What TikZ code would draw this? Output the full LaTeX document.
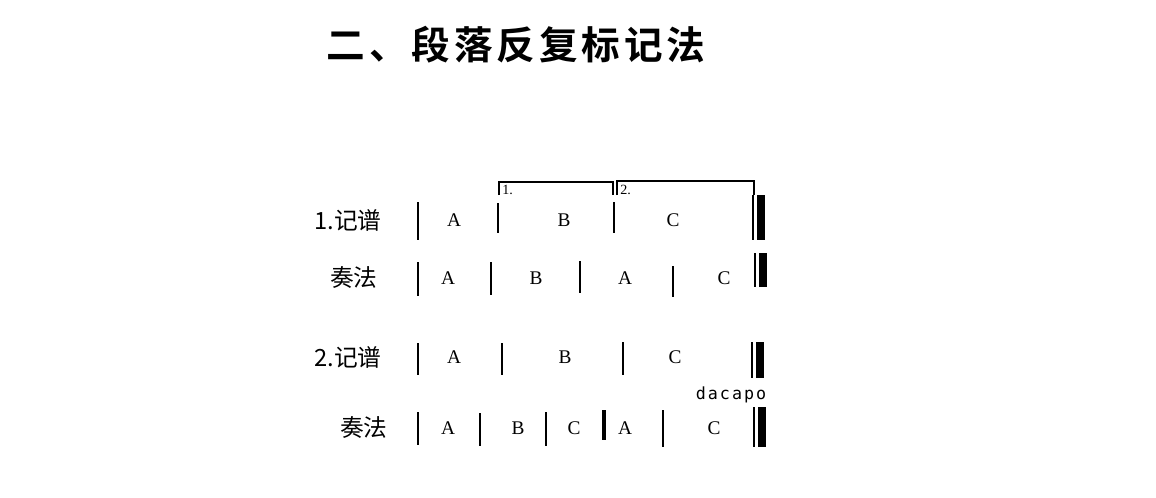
\documentclass[tikz,border=0pt]{standalone}
\usepackage{fontspec}
\setmainfont{Liberation Serif}
\newfontfamily\cjk[BoldFont={Noto Sans CJK SC Bold}]{Noto Sans CJK SC}
\newfontfamily\dcfont[LetterSpace=12]{DejaVu Sans Mono}
\usetikzlibrary{positioning}

% final double bar: x, top, bottom
\newcommand{\finbar}[3]{%
  \draw[bar,line width=0.9pt] (#1,#2) -- (#1,#3);
  \draw[fin] (#1+8,#2) -- (#1+8,#3);}

\begin{document}
\begin{tikzpicture}[x=0.02cm,y=-0.02cm]
  \tikzstyle{bar}=[line width=1.3pt]
  \tikzstyle{fin}=[line width=4.4pt]
  \tikzstyle{part}=[font=\fontsize{11}{11}\selectfont,inner sep=0pt]
  \tikzstyle{lbl}=[font=\cjk\fontsize{13.5}{13.5}\selectfont,anchor=east,inner sep=0pt]
  \tikzstyle{volta}=[line width=0.7pt]
  \useasboundingbox (0,0) rectangle (1156,497);

  \node[font=\cjk\bfseries\fontsize{22}{22}\selectfont,inner sep=0pt] (title) at (516,45)
    {\addfontfeature{LetterSpace=10}二、段落反复标记法};

  % 1. written
  \node[lbl] (row-1) at (382,220) {1.记谱};
  \foreach \name/\x in {A/454, B/564, C/673}
    \node[part] (r1-\name) at (\x,220) {\name};
  \foreach \x/\ya/\yb in {418/202/240, 498/203/233, 614/202/233}
    { \draw[bar] (\x,\ya) -- (\x,\yb); }
  \finbar{753}{195}{240}
  \draw[volta] (499,195) -- (499,182) -- (613,182) -- (613,195);
  \draw[volta] (617,195) -- (617,181) -- (754,181) -- (754,195);
  \node[font=\fontsize{8}{8}\selectfont,anchor=west,inner sep=0pt] (volta-1) at (502,190) {1.};
  \node[font=\fontsize{8}{8}\selectfont,anchor=west,inner sep=0pt] (volta-2) at (620,190) {2.};

  % 1. played
  \node[lbl] (row-2) at (378,278) {奏法};
  \foreach \name/\x/\text in {A/448/A, B/536/B, A2/625/A, C/724/C}
    \node[part] (r2-\name) at (\x,278) {\text};
  \foreach \x/\ya/\yb in {418/262/296, 491/262/295, 580/261/293, 673/266/297}
    { \draw[bar] (\x,\ya) -- (\x,\yb); }
  \finbar{755}{253}{287}

  % 2. written
  \node[lbl] (row-3) at (382,357) {2.记谱};
  \foreach \name/\x in {A/454, B/565, C/675}
    \node[part] (r3-\name) at (\x,357) {\name};
  \foreach \x/\ya/\yb in {418/343/375, 502/343/375, 623/342/375}
    { \draw[bar] (\x,\ya) -- (\x,\yb); }
  \finbar{752}{342}{378}
  \node[font=\dcfont\fontsize{9.5}{9.5}\selectfont,inner sep=0pt] (dacapo) at (731,395) {dacapo};

  % 2. played
  \node[lbl] (row-4) at (388,428) {奏法};
  \foreach \name/\x/\text in {A/448/A, B/518/B, C/574/C, A2/625/A, C2/714/C}
    \node[part] (r4-\name) at (\x,428) {\text};
  \foreach \x/\ya/\yb in {418/412/445, 480/413/446, 546/412/446, 663/410/447}
    { \draw[bar] (\x,\ya) -- (\x,\yb); }
  \draw[bar,line width=2pt] (604,410) -- (604,440);
  \finbar{754}{407}{447}
\end{tikzpicture}
\end{document}
